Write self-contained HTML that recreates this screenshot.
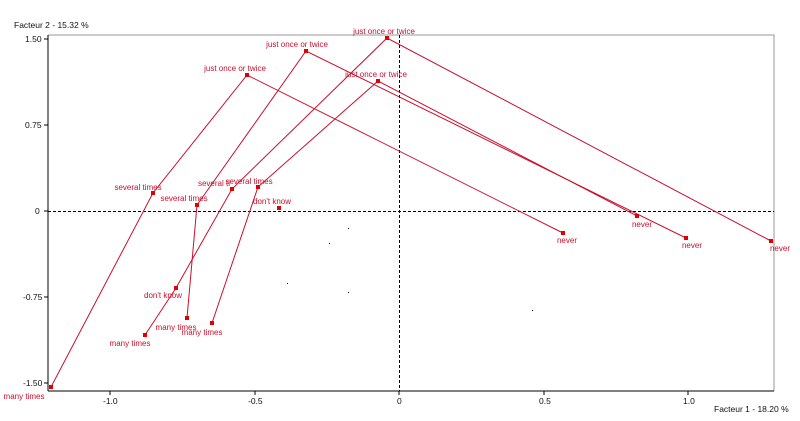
<!DOCTYPE html>
<html><head><meta charset="utf-8"><style>
body{margin:0;background:#fff;}
svg{display:block;font-family:"Liberation Sans",Arial,sans-serif;}
.r{fill:#c8102e;font-size:8px;text-anchor:middle}
.a{fill:#111;font-size:8.5px}
</style></head><body>
<svg width="800" height="421" viewBox="0 0 800 421">
<polyline points="48,35 774,35 774,391" fill="none" stroke="#bbb" stroke-width="1.5"/>
<line x1="48" y1="35" x2="48" y2="391" stroke="#000"/>
<line x1="48" y1="391" x2="774" y2="391" stroke="#000"/>
<line x1="48" y1="211.5" x2="774" y2="211.5" stroke="#000" stroke-dasharray="3,2"/>
<line x1="399.5" y1="35" x2="399.5" y2="391" stroke="#000" stroke-dasharray="3,2"/>
<g stroke="#000">
<line x1="44" y1="39" x2="48" y2="39"/><line x1="44" y1="125" x2="48" y2="125"/><line x1="44" y1="211" x2="48" y2="211"/><line x1="44" y1="297" x2="48" y2="297"/><line x1="44" y1="383" x2="48" y2="383"/>
<line x1="110" y1="391" x2="110" y2="395"/><line x1="255" y1="391" x2="255" y2="395"/><line x1="399" y1="391" x2="399" y2="395"/><line x1="544" y1="391" x2="544" y2="395"/><line x1="688" y1="391" x2="688" y2="395"/>
</g>
<g class="a">
<text x="14" y="28">Facteur 2  -  15.32 %</text>
<text x="25" y="42">1.50</text><text x="25" y="128">0.75</text><text x="35" y="214">0</text><text x="23" y="300">-0.75</text><text x="23" y="386">-1.50</text>
<text x="103" y="404">-1.0</text><text x="248" y="404">-0.5</text><text x="397" y="404">0</text><text x="539" y="404">0.5</text><text x="683" y="404">1.0</text>
<text x="714" y="412">Facteur 1  -  18.20 %</text>
</g>
<g stroke="#c8102e" stroke-width="1" fill="none">
<polyline points="51,387 153,193 247,75 563,233"/>
<polyline points="187,318 197,205 306,51 686,238"/>
<polyline points="145,335 176,288 232,189 387,38 771,241"/>
<polyline points="212,323 258,187 378,81 637,216"/>
</g>
<g fill="#e00000">
<rect x="385" y="36" width="4" height="4"/><rect x="304" y="49" width="4" height="4"/><rect x="245" y="73" width="4" height="4"/><rect x="376" y="79" width="4" height="4"/>
<rect x="769" y="239" width="4" height="4"/><rect x="635" y="214" width="4" height="4"/><rect x="684" y="236" width="4" height="4"/><rect x="561" y="231" width="4" height="4"/>
<rect x="151" y="191" width="4" height="4"/><rect x="195" y="203" width="4" height="4"/><rect x="230" y="187" width="4" height="4"/><rect x="256" y="185" width="4" height="4"/>
<rect x="277" y="206" width="4" height="4"/><rect x="174" y="286" width="4" height="4"/>
<rect x="49" y="385" width="4" height="4"/><rect x="143" y="333" width="4" height="4"/><rect x="185" y="316" width="4" height="4"/><rect x="210" y="321" width="4" height="4"/>
</g>
<g fill="#000"><rect x="287" y="283" width="1" height="1"/><rect x="329" y="243" width="1" height="1"/><rect x="348" y="228" width="1" height="1"/><rect x="348" y="292" width="1" height="1"/><rect x="532" y="310" width="1" height="1"/></g>
<g class="r">
<text x="384" y="34">just once or twice</text><text x="297" y="47">just once or twice</text><text x="235" y="71">just once or twice</text><text x="376" y="77">just once or twice</text>
<text x="780" y="251">never</text><text x="642" y="227">never</text><text x="692" y="248">never</text><text x="567" y="243">never</text>
<text x="138" y="190">several times</text><text x="184" y="201">several times</text><text x="214" y="186">several ti</text><text x="249" y="184">several times</text>
<text x="272" y="204">don't know</text><text x="163" y="298">don't know</text>
<text x="24" y="399">many times</text><text x="130" y="346">many times</text><text x="176" y="330">many times</text><text x="202" y="335">many times</text>
</g>
</svg>
</body></html>
